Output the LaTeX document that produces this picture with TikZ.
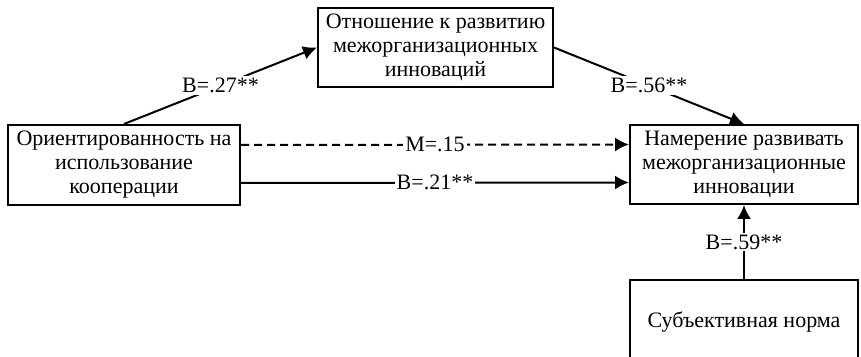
\documentclass[tikz,border=0pt]{standalone}
\usepackage{fontspec}
\setmainfont{Liberation Serif}
\usetikzlibrary{arrows.meta}

\tikzset{
  box/.style={draw, line width=1pt, align=center, inner sep=0pt,
    minimum width=114pt, minimum height=40pt,
    font=\fontsize{11}{12}\selectfont},
  lbl/.style={fill=white, inner sep=1pt, font=\fontsize{11}{12}\selectfont},
  link/.style={line width=1pt, -{Latex[length=7pt,width=7pt]}}
}

\begin{document}
\begin{tikzpicture}[x=0.5pt,y=-0.5pt]
          \useasboundingbox (0,0) rectangle (861,357);
          \clip (0,0) rectangle (861,357);

          \node[box, minimum width=116pt] (orient) at (124,165) {Ориентированность на\\использование\\кооперации};
          \node[box, minimum width=117.5pt, minimum height=39.5pt] (attitude) at (435.5,47.5) {Отношение к развитию\\межорганизационных\\инноваций};
          \node[box, minimum height=39.5pt] (intent) at (744,164.5) {Намерение развивать\\межорганизационные\\инновации};
          \node[box, minimum height=42pt] (norm) at (744,322) {Субъективная норма};

          \draw[link] (orient.north) -- node[lbl]{B=.27**} (attitude.west);
          \draw[link] (attitude.east) -- node[lbl]{B=.56**} (intent.north);
          \draw[link, dash pattern=on 4pt off 2.5pt] ([yshift=10pt]orient.east) -- node[lbl]{M=.15} ([yshift=10pt]intent.west);
          \draw[link] ([yshift=-9pt]orient.east) -- node[lbl]{B=.21**} ([yshift=-9pt]intent.west);
          \draw[link] (norm) -- node[lbl]{B=.59**} (intent);
        \end{tikzpicture}
\end{document}
